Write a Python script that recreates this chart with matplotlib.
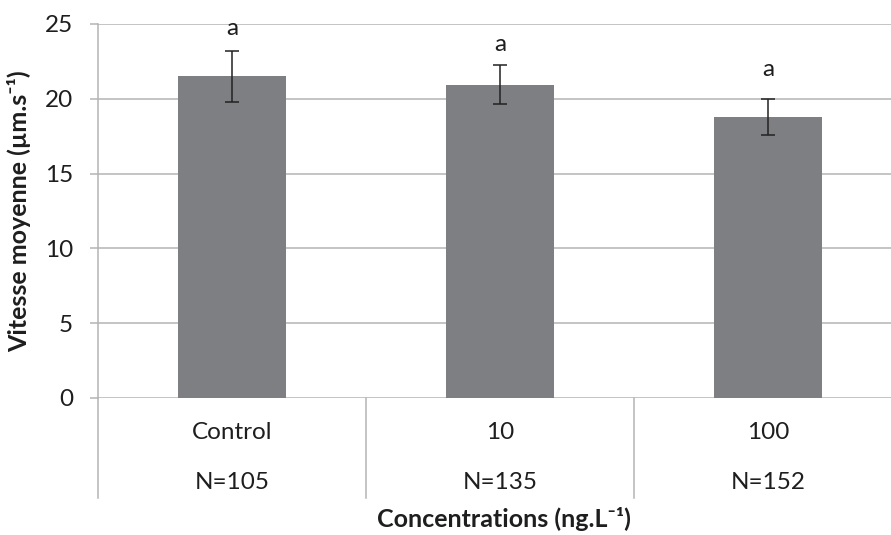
import matplotlib
matplotlib.use("Agg")
import matplotlib.pyplot as plt
import matplotlib.transforms as mtransforms

# data
categories = ["Control", "10", "100"]
n_labels = ["N=105", "N=135", "N=152"]
means = [21.5, 20.95, 18.8]
errors = [1.7, 1.3, 1.2]
letters = ["a", "a", "a"]

plt.rcParams["font.family"] = ["Lato", "DejaVu Sans"]

grid_col = "#b4b4b4"
bar_col = "#7e7f83"
txt_col = "#1e1e1e"

fig = plt.figure(figsize=(8.91, 5.35), dpi=100)
# axes run slightly past the right edge, like the cropped original
ax = fig.add_axes([98 / 891, 1 - 398 / 535, 804 / 891, 374 / 535])

x = range(len(categories))
ax.bar(x, means, width=0.4, color=bar_col, zorder=2)
ax.errorbar(x, means, yerr=errors, fmt="none", ecolor="#222222",
            elinewidth=1.1, capsize=5, capthick=1.1, zorder=3)

letter_offsets = [16, 15, 21]
for i, (m, e, s) in enumerate(zip(means, errors, letters)):
    ax.annotate(s, xy=(i, m + e), xytext=(0, letter_offsets[i]),
                textcoords="offset points", ha="center", va="center",
                fontsize=17.5, color=txt_col)

ax.set_xlim(-0.5, 2.5)
ax.set_ylim(0, 25)
ax.set_yticks([0, 5, 10, 15, 20, 25])
ax.yaxis.grid(True, color=grid_col, linewidth=1.1, zorder=0)
ax.set_axisbelow(True)
ax.tick_params(axis="y", length=6, color=grid_col, width=1.1,
               labelsize=17.5, pad=12, labelcolor=txt_col)
ax.set_xticks([])

for side in ["top", "right", "bottom"]:
    ax.spines[side].set_visible(False)
ax.spines["left"].set_color(grid_col)
ax.spines["left"].set_linewidth(1.1)
ax.spines["left"].set_bounds(0, 25)

# multi-level category axis: separators and two rows of labels
trans = mtransforms.blended_transform_factory(ax.transData, ax.transAxes)
for b in [-0.5, 0.5, 1.5, 2.5]:
    ax.plot([b, b], [0, -0.268], transform=trans, color=grid_col,
            linewidth=1.1, clip_on=False)
for i, (c, n) in enumerate(zip(categories, n_labels)):
    ax.text(i, -0.091, c, transform=trans, ha="center", va="center",
            fontsize=17.5, color=txt_col)
    ax.text(i, -0.227, n, transform=trans, ha="center", va="center",
            fontsize=17.5, color=txt_col)

ax.set_ylabel("Vitesse moyenne (µm.s⁻¹)", fontsize=18,
              fontweight="bold", color=txt_col, labelpad=10)
fig.text(504 / 891, 1 - 519 / 535, "Concentrations (ng.L⁻¹)",
         ha="center", va="center", fontsize=18, fontweight="bold",
         color=txt_col)

fig.savefig("out.png", dpi=100)
